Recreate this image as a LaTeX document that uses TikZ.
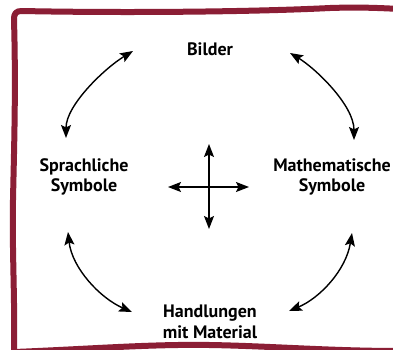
\documentclass[tikz,border=0pt]{standalone}
\usepackage{fontspec}
\setmainfont{PT Sans}
\usetikzlibrary{arrows.meta}
\definecolor{frameRed}{RGB}{139,30,53}
\tikzset{
  lbl/.style={font=\fontsize{18}{20.5}\selectfont\bfseries, align=center, inner sep=0pt},
  dbl/.style={line width=1.4pt, {Stealth[length=13pt,width=10pt,inset=2.5pt]}-{Stealth[length=13pt,width=10pt,inset=2.5pt]}},
  frame/.style={draw=frameRed, line width=6pt, line cap=round, line join=round}
}
\begin{document}
\begin{tikzpicture}[x=1pt,y=-1pt]
\useasboundingbox (0,0) rectangle (393,349);
\begin{scope}
\clip (0,0) rectangle (393,349);
\fill[white] (0,0) rectangle (393,349);
% frame
\draw[frame] (14,352) .. controls (15,300) and (12,250) .. (13,200)
  .. controls (14,150) and (16,90) .. (14,20)
  .. controls (14,13) and (16,11) .. (22,11)
  .. controls (120,13) and (250,12) .. (330,8)
  .. controls (360,7) and (380,8) .. (400,9);
\draw[frame] (14,352) .. controls (90,349) and (150,344) .. (210,345)
  .. controls (270,346) and (330,351) .. (400,351);
\end{scope}
% labels
\node[lbl] (bilder) at (210,49) {Bilder};
\node[lbl] (sprach) at (84,177) {Sprachliche\\Symbole};
\node[lbl] (mathe) at (332,177) {Mathematische\\Symbole};
\node[lbl] (hand) at (210,322) {Handlungen\\mit Material};
% arrow endpoints
\coordinate (tlA) at (66,138);
\coordinate (tlB) at (133,51);
\coordinate (trA) at (290,53);
\coordinate (trB) at (354,140);
\coordinate (blA) at (68,232);
\coordinate (blB) at (132,312);
\coordinate (brA) at (352,233);
\coordinate (brB) at (289,311);
\coordinate (cT) at (209,144);
\coordinate (cB) at (209,229);
\coordinate (cL) at (168,187);
\coordinate (cR) at (249,187);
\draw[dbl] (tlA) .. controls (66,105) and (105,68) .. (tlB);
\draw[dbl] (trA) .. controls (315,68) and (354,105) .. (trB);
\draw[dbl] (blA) .. controls (72,268) and (100,298) .. (blB);
\draw[dbl] (brA) .. controls (346,270) and (320,298) .. (brB);
\draw[dbl] (cT) -- (cB);
\draw[dbl] (cL) -- (cR);
\end{tikzpicture}
\end{document}
